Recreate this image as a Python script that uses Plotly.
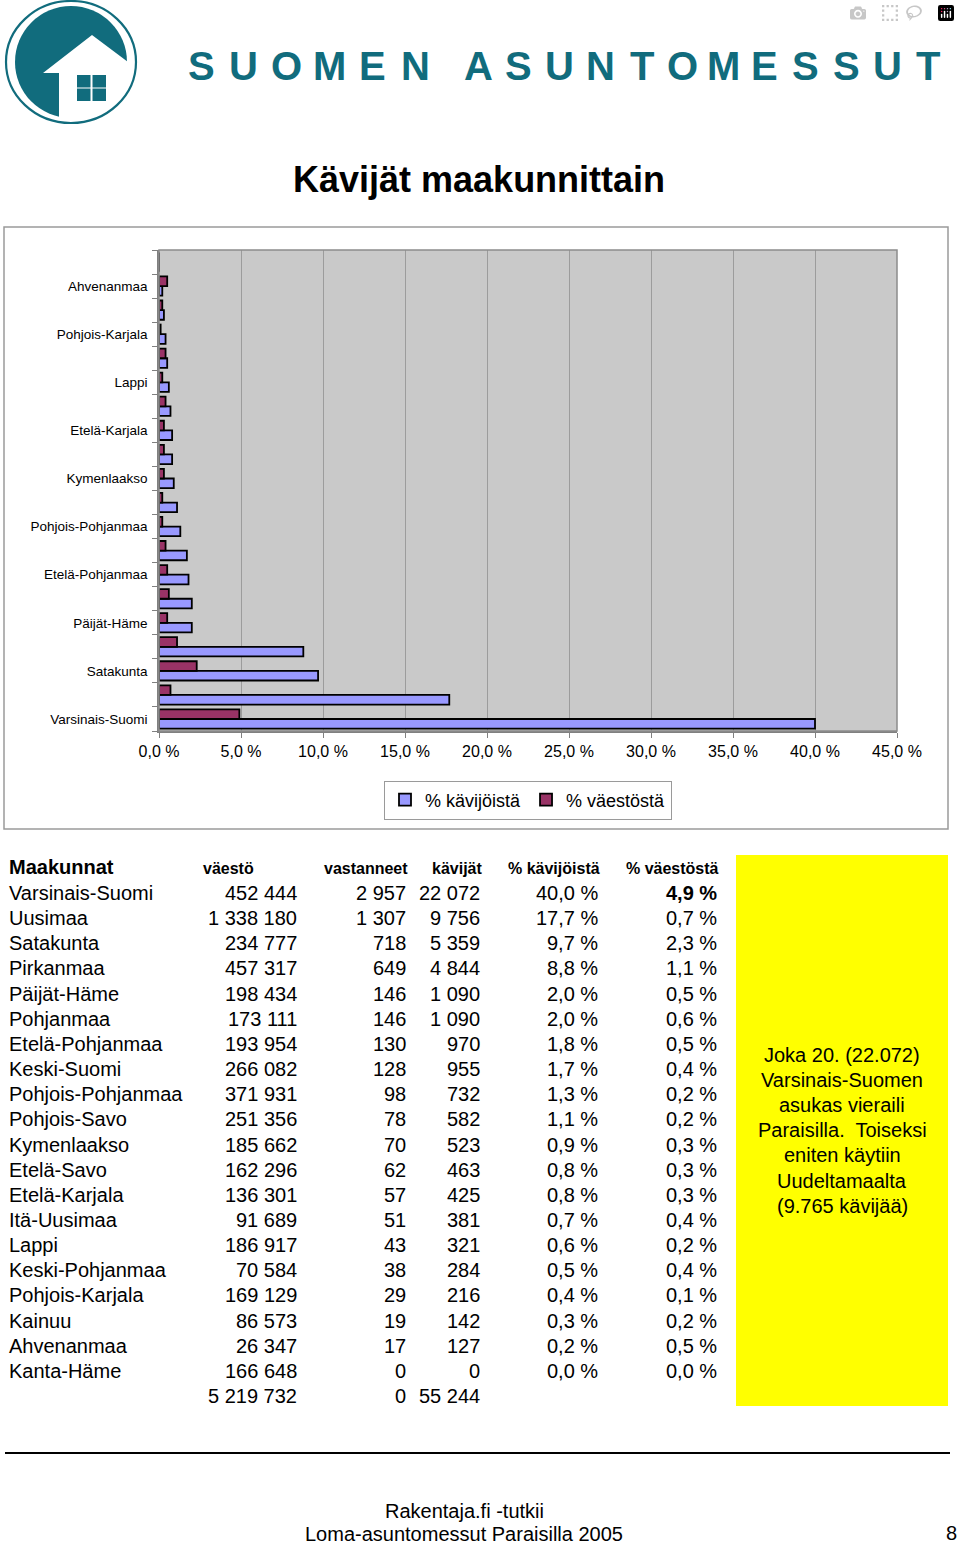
import plotly.graph_objects as go

W, H = 960, 1545

# table data (order as in the table, also bottom -> top in the chart)
maakunnat = ["Varsinais-Suomi", "Uusimaa", "Satakunta", "Pirkanmaa", "Päijät-Häme",
             "Pohjanmaa", "Etelä-Pohjanmaa", "Keski-Suomi", "Pohjois-Pohjanmaa",
             "Pohjois-Savo", "Kymenlaakso", "Etelä-Savo", "Etelä-Karjala", "Itä-Uusimaa",
             "Lappi", "Keski-Pohjanmaa", "Pohjois-Karjala", "Kainuu", "Ahvenanmaa", "Kanta-Häme"]
vaesto = [452444, 1338180, 234777, 457317, 198434, 173111, 193954, 266082, 371931, 251356,
          185662, 162296, 136301, 91689, 186917, 70584, 169129, 86573, 26347, 166648]
vastanneet = [2957, 1307, 718, 649, 146, 146, 130, 128, 98, 78, 70, 62, 57, 51, 43, 38, 29, 19, 17, 0]
kavijat = [22072, 9756, 5359, 4844, 1090, 1090, 970, 955, 732, 582, 523, 463, 425, 381, 321,
           284, 216, 142, 127, 0]
pct_kavijoista = [40.0, 17.7, 9.7, 8.8, 2.0, 2.0, 1.8, 1.7, 1.3, 1.1, 0.9, 0.8, 0.8, 0.7, 0.6,
                  0.5, 0.4, 0.3, 0.2, 0.0]
pct_vaestosta = [4.9, 0.7, 2.3, 1.1, 0.5, 0.6, 0.5, 0.4, 0.2, 0.2, 0.3, 0.3, 0.3, 0.4, 0.2,
                 0.4, 0.1, 0.2, 0.5, 0.0]
totals = [5219732, 0, 55244]

headers = ["väestö", "vastanneet", "kävijät", "% kävijöistä", "% väestöstä"]
note_lines = ["Joka 20. (22.072)", "Varsinais-Suomen", "asukas vieraili",
              "Paraisilla.  Toiseksi", "eniten käytiin", "Uudeltamaalta", "(9.765 kävijää)"]

TEAL = "#116C7D"
FONT = "Liberation Sans, Arial, sans-serif"


def px(x):
    return x / W


def py(y):
    return 1 - y / H


def num(v):
    return f"{v:,}".replace(",", " ")


def pct(v):
    return f"{v:.1f}".replace(".", ",") + " %"


fig = go.Figure()
fig.add_trace(go.Bar(y=maakunnat, x=pct_kavijoista, orientation="h", name="% kävijöistä",
                     marker=dict(color="#9999FF", line=dict(color="black", width=1.8))))
fig.add_trace(go.Bar(y=maakunnat, x=pct_vaestosta, orientation="h", name="% väestöstä",
                     marker=dict(color="#993366", line=dict(color="black", width=1.8))))

ann = []
shapes = []

# logo
shapes.append(dict(type="circle", xref="paper", yref="paper", x0=px(15), x1=px(127),
                   y0=py(118), y1=py(6), fillcolor=TEAL, line=dict(width=0), layer="above"))
shapes.append(dict(type="path", xref="paper", yref="paper", layer="above",
                   path=f"M{px(43)},{py(73)} L{px(92)},{py(35)} L{px(140)},{py(71)} "
                        f"L{px(140)},{py(126)} L{px(59)},{py(126)} L{px(59)},{py(73)} Z",
                   fillcolor="white", line=dict(width=0)))
shapes.append(dict(type="circle", xref="paper", yref="paper", x0=px(6), x1=px(136),
                   y0=py(123), y1=py(1), line=dict(color=TEAL, width=2.2), layer="above"))
for wx, wy in [(77, 75), (92.5, 75), (77, 88.5), (92.5, 88.5)]:
    shapes.append(dict(type="rect", xref="paper", yref="paper", layer="above",
                       x0=px(wx), x1=px(wx + 13.5), y0=py(wy + 12.5), y1=py(wy),
                       fillcolor=TEAL, line=dict(width=0)))
for word, x0, step in [("SUOMEN", 201, 42.8), ("ASUNTOMESSUT", 478, 40.9)]:
    for i, ch in enumerate(word):
        ann.append(dict(x=px(x0 + i * step), y=py(66), text=f"<b>{ch}</b>", showarrow=False,
                        xref="paper", yref="paper", xanchor="center", yanchor="middle",
                        font=dict(size=40, color=TEAL, family=FONT)))

# title
ann.append(dict(x=px(479), y=py(180), text="<b>Kävijät maakunnittain</b>", showarrow=False,
                xref="paper", yref="paper", font=dict(size=36, color="black")))

# chart frame and plot-area border
shapes.append(dict(type="rect", xref="paper", yref="paper", x0=px(4), x1=px(948),
                   y0=py(829), y1=py(227), line=dict(color="#9a9a9a", width=1.5), layer="below"))
shapes.append(dict(type="rect", xref="paper", yref="paper", x0=px(159), x1=px(897),
                   y0=py(731), y1=py(250), line=dict(color="#8c8c8c", width=1.5), layer="above"))

# table
row0, step = 893, 25.15
col_right = [299, 408, 482, 600, 719]
head_x = [228, 366, 457, 554, 672]
ann.append(dict(x=px(7), y=py(867), text="<b>Maakunnat</b>", xanchor="left",
                font=dict(size=20)))
for hx, h in zip(head_x, headers):
    ann.append(dict(x=px(hx), y=py(868), text=f"<b>{h}</b>", xanchor="center",
                    font=dict(size=16)))
for i, name in enumerate(maakunnat):
    yy = py(row0 + i * step)
    vals = [num(vaesto[i]), num(vastanneet[i]), num(kavijat[i]),
            pct(pct_kavijoista[i]), pct(pct_vaestosta[i])]
    if i == 0:
        vals[4] = f"<b>{vals[4]}</b>"
    ann.append(dict(x=px(7), y=yy, text=name, xanchor="left", font=dict(size=20)))
    for cx, v in zip(col_right, vals):
        ann.append(dict(x=px(cx), y=yy, text=v, xanchor="right", font=dict(size=20)))
yy = py(row0 + len(maakunnat) * step)
for cx, v in zip(col_right, totals):
    ann.append(dict(x=px(cx), y=yy, text=num(v), xanchor="right", font=dict(size=20)))

# yellow note box
shapes.append(dict(type="rect", xref="paper", yref="paper", x0=px(736), x1=px(948),
                   y0=py(1406), y1=py(855), fillcolor="#FFFF00", line=dict(width=0), layer="below"))
for i, line in enumerate(note_lines):
    ann.append(dict(x=px(842), y=py(1055 + i * 25.1), text=line, xanchor="center",
                    font=dict(size=20)))

# footer
shapes.append(dict(type="line", xref="paper", yref="paper", x0=px(5), x1=px(950),
                   y0=py(1453), y1=py(1453), line=dict(color="black", width=2)))
ann.append(dict(x=px(464), y=py(1511), text="Rakentaja.fi -tutkii", font=dict(size=20)))
ann.append(dict(x=px(464), y=py(1534), text="Loma-asuntomessut Paraisilla 2005", font=dict(size=20)))
ann.append(dict(x=px(951), y=py(1533), text="8", font=dict(size=20)))

for a in ann:
    a.setdefault("xref", "paper")
    a.setdefault("yref", "paper")
    a.setdefault("showarrow", False)
    a.setdefault("yanchor", "middle")
    a.setdefault("xanchor", "center")
    a.setdefault("font", {})
    a["font"].setdefault("color", "black")
    a["font"].setdefault("family", FONT)

tick_text = [n if i % 2 == 0 and i < 19 else "" for i, n in enumerate(maakunnat)]

fig.update_layout(
    width=W, height=H,
    margin=dict(l=0, r=0, t=0, b=0, autoexpand=False),
    paper_bgcolor="white",
    plot_bgcolor="#C9C9C9",
    separators=", ",
    font=dict(family=FONT, color="black"),
    barmode="group", bargap=0.2, bargroupgap=0,
    showlegend=True,
    legend=dict(orientation="h", x=px(528), y=py(800), xanchor="center", yanchor="middle",
                bgcolor="white", bordercolor="#9a9a9a", borderwidth=1,
                font=dict(size=18), itemwidth=30, traceorder="normal"),
    xaxis=dict(domain=[px(159), px(897)], range=[0, 45], dtick=5, tick0=0,
               tickformat=".1f", ticksuffix=" %", showgrid=True, gridcolor="#9c9c9c",
               gridwidth=1, zeroline=False, showline=True, linecolor="#808080", linewidth=1.5,
               ticks="outside", ticklen=5, tickcolor="#808080", tickfont=dict(size=16),
               automargin=False, fixedrange=True),
    yaxis=dict(domain=[py(731), py(250)], type="category", categoryorder="array",
               categoryarray=maakunnat, tickvals=maakunnat, ticktext=tick_text,
               tickson="boundaries", ticks="outside", ticklen=5, tickcolor="#808080",
               ticklabelstandoff=7,
               showgrid=False, showline=True, linecolor="#808080", linewidth=1.5,
               tickfont=dict(size=13.5), automargin=False, fixedrange=True),
    shapes=shapes,
    annotations=ann,
)

fig.write_html("out.html", post_script="document.body.style.margin='0';")
